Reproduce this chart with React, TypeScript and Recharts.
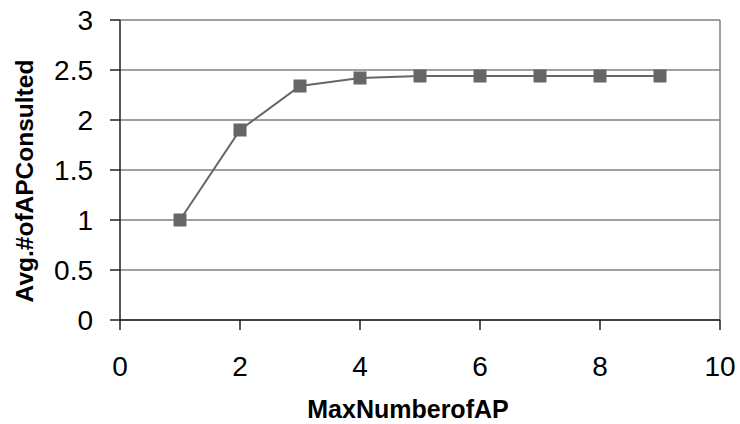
import React from 'react';
import { LineChart, Line, XAxis, YAxis, CartesianGrid, ReferenceLine } from 'recharts';

const maxAP = [1, 2, 3, 4, 5, 6, 7, 8, 9];
const avgConsulted = [1.0, 1.9, 2.34, 2.42, 2.44, 2.44, 2.44, 2.44, 2.44];
const xTicks = [0, 2, 4, 6, 8, 10];
const yTicks = [0, 0.5, 1, 1.5, 2, 2.5, 3];
const xTitle = 'MaxNumberofAP';
const yTitle = 'Avg.#ofAPConsulted';

const data = maxAP.map((x, i) => ({ x, y: avgConsulted[i] }));

const FONT = '"Liberation Sans", Arial, sans-serif';

const SquareDot = (props: any) => {
  const { cx, cy } = props;
  if (cx == null || cy == null) return null;
  return <rect x={cx - 6.5} y={cy - 6.5} width={13} height={13} fill="#666666" />;
};

const YTick = (props: any) => {
  const { x, y, payload } = props;
  return (
    <text x={x} y={y} dy={10} textAnchor="end" fontFamily={FONT} fontSize={28} fill="#000">
      {payload.value}
    </text>
  );
};

const XTick = (props: any) => {
  const { x, y, payload } = props;
  return (
    <text x={x} y={y} dy={31} textAnchor="middle" fontFamily={FONT} fontSize={28} fill="#000">
      {payload.value}
    </text>
  );
};

export default function App() {
  return (
    <div style={{ position: 'absolute', left: 0, top: 0, background: '#fff' }}>
      <LineChart width={740} height={424} data={data} margin={{ top: 20, right: 20, left: 0, bottom: 74 }}>
        <CartesianGrid horizontal vertical={false} stroke="#808080" strokeWidth={1.5} />
        <ReferenceLine x={10} stroke="#808080" strokeWidth={1.5} />
        <XAxis
          dataKey="x"
          type="number"
          domain={[0, 10]}
          ticks={xTicks}
          height={30}
          tickSize={10}
          tickMargin={15}
          stroke="#222"
          strokeWidth={1.5}
          tick={<XTick />}
          interval={0}
        />
        <YAxis
          type="number"
          domain={[0, 3]}
          ticks={yTicks}
          width={120}
          tickSize={10}
          tickMargin={17}
          stroke="#222"
          strokeWidth={1.5}
          tick={<YTick />}
          interval={0}
        />
        <Line
          dataKey="y"
          type="linear"
          stroke="#666666"
          strokeWidth={2}
          dot={<SquareDot />}
          isAnimationActive={false}
        />
        <text x={408} y={418} textAnchor="middle" fontFamily={FONT} fontSize={25} fontWeight="bold" fill="#000">
          {xTitle}
        </text>
        <text
          x={33}
          y={181}
          textAnchor="middle"
          fontFamily={FONT}
          fontSize={24.5}
          fontWeight="bold"
          fill="#000"
          transform="rotate(-90, 33, 181)"
        >
          {yTitle}
        </text>
      </LineChart>
    </div>
  );
}
